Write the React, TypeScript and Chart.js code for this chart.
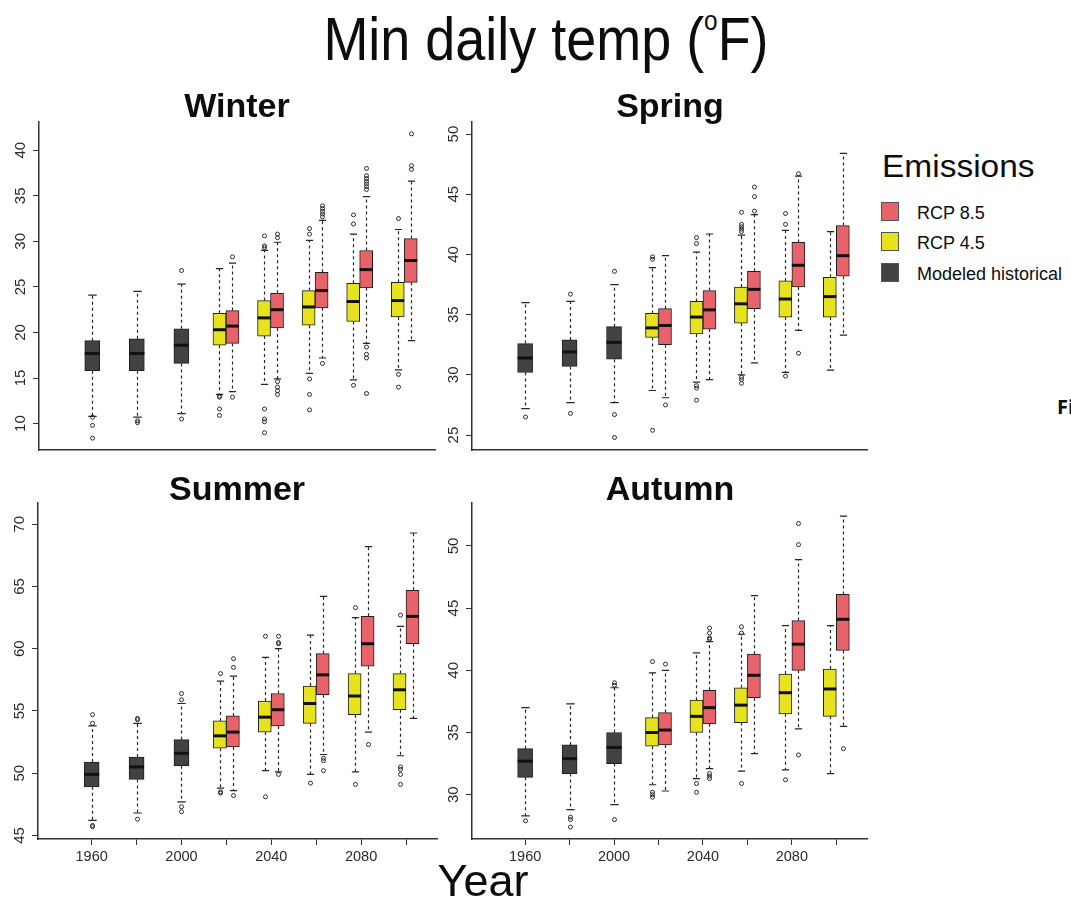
import React, { useEffect, useRef } from 'react';
import { Chart, registerables } from 'chart.js';

Chart.register(...registerables);

const FONT = '"Liberation Sans", Arial, Helvetica, sans-serif';

// ---------- data ----------
const HIST_YEARS = [1960, 1980, 2000];
const RCP_YEARS = [2020, 2040, 2060, 2080, 2100];
const X_TICKS = [1960, 1980, 2000, 2020, 2040, 2060, 2080, 2100];
const X_TICK_LABELS = ['1960', '', '2000', '', '2040', '', '2080', ''];

// box stats per period: [lower whisker, Q1, median, Q3, upper whisker]
const WINTER_HIST = [
  [10.8, 15.8, 17.7, 19.1, 24.1],
  [10.7, 15.8, 17.7, 19.3, 24.5],
  [11.1, 16.6, 18.6, 20.4, 25.3],
];
const WINTER_HIST_OUT = [[10.7, 9.8, 8.4], [10.3, 10.1], [26.8, 10.5]];
const WINTER_RCP45 = [
  [13.2, 18.6, 20.3, 22.1, 27.0],
  [14.3, 19.6, 21.6, 23.5, 29.0],
  [15.5, 20.8, 22.8, 24.6, 30.1],
  [14.8, 21.2, 23.4, 25.4, 30.8],
  [15.9, 21.7, 23.5, 25.5, 31.3],
];
const WINTER_RCP45_OUT = [
  [13.0, 12.9, 11.6, 10.9],
  [30.6, 29.5, 29.3, 11.6, 10.5, 10.2, 9.0],
  [31.4, 30.8, 14.9, 13.2, 11.5],
  [32.9, 31.9, 14.2],
  [32.5, 15.4, 14.0],
];
const WINTER_RCP85 = [
  [13.5, 18.8, 20.7, 22.4, 27.6],
  [14.9, 20.5, 22.5, 24.3, 29.9],
  [17.2, 22.7, 24.6, 26.6, 32.3],
  [18.8, 24.9, 26.9, 29.0, 34.9],
  [19.1, 25.5, 27.9, 30.3, 36.6],
];
const WINTER_RCP85_OUT = [
  [28.3, 12.9],
  [30.8, 30.4, 14.6, 14.0, 13.6, 13.2],
  [33.9, 33.6, 33.3, 33.0, 32.7, 16.6],
  [38.0, 37.2, 36.9, 36.6, 36.3, 36.0, 35.7, 18.4, 17.6, 17.2, 13.3],
  [41.8, 38.3, 37.9],
];
const WINTER_YTICKS = [10, 15, 20, 25, 30, 35, 40];

const SPRING_HIST = [
  [27.2, 30.2, 31.4, 32.6, 36.0],
  [27.7, 30.7, 31.9, 32.9, 36.1],
  [27.7, 31.3, 32.7, 34.0, 37.5],
];
const SPRING_HIST_OUT = [[26.5], [36.7, 26.8], [38.6, 26.7, 24.8]];
const SPRING_RCP45 = [
  [28.7, 33.1, 33.9, 35.1, 38.9],
  [29.4, 33.4, 34.8, 36.1, 40.2],
  [30.0, 34.3, 35.9, 37.3, 41.6],
  [30.2, 34.8, 36.3, 37.8, 42.0],
  [30.4, 34.8, 36.5, 38.1, 41.9],
];
const SPRING_RCP45_OUT = [
  [39.8, 39.6, 25.4],
  [41.4, 40.9, 29.1, 28.9, 27.9],
  [43.5, 42.5, 42.3, 42.1, 41.9, 29.8, 29.6, 29.3],
  [43.4, 42.5, 29.9],
  [],
];
const SPRING_RCP85 = [
  [28.1, 32.5, 34.1, 35.5, 39.9],
  [29.6, 33.8, 35.4, 37.0, 41.7],
  [31.0, 35.5, 37.1, 38.6, 43.3],
  [33.7, 37.3, 39.1, 41.0, 46.5],
  [33.3, 38.2, 39.9, 42.4, 48.4],
];
const SPRING_RCP85_OUT = [[27.5], [], [45.6, 44.8, 43.6], [46.7, 31.8], []];
const SPRING_YTICKS = [25, 30, 35, 40, 45, 50];

const SUMMER_HIST = [
  [46.2, 48.9, 49.9, 50.9, 53.8],
  [46.8, 49.5, 50.5, 51.3, 54.0],
  [47.7, 50.6, 51.6, 52.7, 55.6],
];
const SUMMER_HIST_OUT = [[54.7, 54.0, 45.8, 45.7], [54.4, 54.3, 46.3], [56.4, 55.9, 47.3, 46.9]];
const SUMMER_RCP45 = [
  [48.8, 52.0, 53.0, 54.2, 57.4],
  [50.2, 53.3, 54.5, 55.8, 59.3],
  [49.9, 54.0, 55.6, 57.0, 61.1],
  [50.1, 54.7, 56.2, 58.0, 62.5],
  [51.4, 55.1, 56.7, 58.0, 61.8],
];
const SUMMER_RCP45_OUT = [
  [58.0, 48.5, 48.4],
  [61.0, 48.1],
  [49.2],
  [63.3, 49.1],
  [62.7, 50.5, 50.3, 49.9, 49.1],
];
const SUMMER_RCP85 = [
  [48.6, 52.1, 53.3, 54.6, 57.8],
  [50.1, 53.8, 55.1, 56.4, 60.0],
  [51.5, 56.3, 57.9, 59.6, 64.2],
  [53.3, 58.6, 60.4, 62.6, 68.2],
  [54.4, 60.4, 62.6, 64.7, 69.3],
];
const SUMMER_RCP85_OUT = [[59.2, 58.5, 48.2], [61.0, 60.5, 60.4, 49.9], [51.2, 51.0, 50.2], [52.3], []];
const SUMMER_YTICKS = [45, 50, 55, 60, 65, 70];

const AUTUMN_HIST = [
  [28.3, 31.4, 32.7, 33.7, 37.0],
  [28.8, 31.7, 32.9, 34.0, 37.3],
  [29.2, 32.5, 33.8, 35.0, 38.6],
];
const AUTUMN_HIST_OUT = [[27.9], [28.2, 28.0, 27.4], [39.0, 38.8, 28.0]];
const AUTUMN_RCP45 = [
  [30.8, 33.9, 35.0, 36.2, 39.8],
  [31.3, 35.0, 36.3, 37.6, 41.4],
  [31.9, 35.8, 37.2, 38.6, 42.9],
  [32.0, 36.5, 38.2, 39.7, 43.6],
  [31.7, 36.3, 38.5, 40.1, 43.6],
];
const AUTUMN_RCP45_OUT = [[40.7, 30.2, 30.0, 29.8], [30.9, 30.2], [43.5, 43.0, 30.9], [31.2], []];
const AUTUMN_RCP85 = [
  [30.3, 34.0, 35.2, 36.6, 40.0],
  [32.1, 35.7, 37.0, 38.4, 42.3],
  [33.3, 37.8, 39.6, 41.3, 46.0],
  [35.3, 40.0, 42.1, 44.0, 48.9],
  [35.5, 41.6, 44.1, 46.1, 52.4],
];
const AUTUMN_RCP85_OUT = [[40.5], [43.4, 43.0, 42.6, 42.5, 31.7, 31.5, 31.3], [], [51.8, 50.1, 33.2], [33.7]];
const AUTUMN_YTICKS = [30, 35, 40, 45, 50];

const SERIES_NAMES = ['Modeled historical', 'RCP 4.5', 'RCP 8.5'];
const COLORS = ['#424242', '#E6E21E', '#E8626A'];

// ---------- layout ----------
const X_MIN = 1936.1;
const X_MAX = 2113.8;

type Area = { l: number; t: number; r: number; b: number };
type Panel = {
  title: string;
  hist: number[][]; histOut: number[][];
  r45: number[][]; r45Out: number[][];
  r85: number[][]; r85Out: number[][];
  yTicks: number[]; yMin: number; yMax: number;
  area: Area; showX: boolean; titleX: number; titleBase: number;
};

const PANELS: Panel[] = [
  { title: 'Winter', hist: WINTER_HIST, histOut: WINTER_HIST_OUT, r45: WINTER_RCP45, r45Out: WINTER_RCP45_OUT, r85: WINTER_RCP85, r85Out: WINTER_RCP85_OUT,
    yTicks: WINTER_YTICKS, yMin: 7.1, yMax: 43.1, area: { l: 39, t: 122, r: 435, b: 457 }, showX: false, titleX: 237, titleBase: 117 },
  { title: 'Spring', hist: SPRING_HIST, histOut: SPRING_HIST_OUT, r45: SPRING_RCP45, r45Out: SPRING_RCP45_OUT, r85: SPRING_RCP85, r85Out: SPRING_RCP85_OUT,
    yTicks: SPRING_YTICKS, yMin: 23.76, yMax: 51.0, area: { l: 472, t: 122, r: 867, b: 457 }, showX: false, titleX: 670, titleBase: 117 },
  { title: 'Summer', hist: SUMMER_HIST, histOut: SUMMER_HIST_OUT, r45: SUMMER_RCP45, r45Out: SUMMER_RCP45_OUT, r85: SUMMER_RCP85, r85Out: SUMMER_RCP85_OUT,
    yTicks: SUMMER_YTICKS, yMin: 44.71, yMax: 71.71, area: { l: 38, t: 503, r: 437, b: 839 }, showX: true, titleX: 237, titleBase: 500 },
  { title: 'Autumn', hist: AUTUMN_HIST, histOut: AUTUMN_HIST_OUT, r45: AUTUMN_RCP45, r45Out: AUTUMN_RCP45_OUT, r85: AUTUMN_RCP85, r85Out: AUTUMN_RCP85_OUT,
    yTicks: AUTUMN_YTICKS, yMin: 26.44, yMax: 53.45, area: { l: 472, t: 503, r: 867, b: 839 }, showX: true, titleX: 670, titleBase: 500 },
];

type Row = { s: number[]; o: number[] } | null;

function alignRows(years: number[], stats: number[][], outs: number[][]): Row[] {
  return X_TICKS.map((yr) => {
    const k = years.indexOf(yr);
    return k >= 0 ? { s: stats[k], o: outs[k] || [] } : null;
  });
}

function makeBoxPlugin(rows: Row[][]) {
  return {
    id: 'boxWhiskers',
    afterDatasetsDraw(chart: any) {
      const ctx: CanvasRenderingContext2D = chart.ctx;
      const ys = chart.scales.y;
      ctx.save();
      rows.forEach((dsRows, di) => {
        const meta = chart.getDatasetMeta(di);
        dsRows.forEach((row, j) => {
          if (!row) return;
          const el = meta.data[j];
          if (!el) return;
          const { x, width } = el.getProps(['x', 'width'], true);
          const [lo, q1, med, q3, hi] = row.s;
          const pLo = ys.getPixelForValue(lo);
          const pQ1 = ys.getPixelForValue(q1);
          const pMed = ys.getPixelForValue(med);
          const pQ3 = ys.getPixelForValue(q3);
          const pHi = ys.getPixelForValue(hi);
          const cx = Math.round(x) + 0.5;
          // dashed whiskers
          ctx.strokeStyle = '#262626';
          ctx.lineWidth = 1.2;
          ctx.setLineDash([3, 3]);
          ctx.beginPath();
          ctx.moveTo(cx, pQ3);
          ctx.lineTo(cx, pHi);
          ctx.moveTo(cx, pQ1);
          ctx.lineTo(cx, pLo);
          ctx.stroke();
          // staples
          ctx.setLineDash([]);
          const sw = width * 0.28;
          ctx.beginPath();
          ctx.moveTo(cx - sw, pHi);
          ctx.lineTo(cx + sw, pHi);
          ctx.moveTo(cx - sw, pLo);
          ctx.lineTo(cx + sw, pLo);
          ctx.stroke();
          // median
          ctx.strokeStyle = '#111';
          ctx.lineWidth = 3;
          ctx.beginPath();
          ctx.moveTo(x - width / 2, pMed);
          ctx.lineTo(x + width / 2, pMed);
          ctx.stroke();
          // outliers
          ctx.strokeStyle = '#2a2a2a';
          ctx.lineWidth = 1;
          row.o.forEach((v) => {
            ctx.beginPath();
            ctx.arc(cx, ys.getPixelForValue(v), 2, 0, Math.PI * 2);
            ctx.stroke();
          });
        });
      });
      ctx.restore();
    },
  };
}

const Y_AXIS_W = 36;

function BoxPanel({ p }: { p: Panel }) {
  const ref = useRef<HTMLCanvasElement>(null);
  const canvasLeft = Math.max(0, p.area.l - 40);
  const canvasTop = p.area.t - 30;
  const xAxisH = p.showX ? 40 : 0;
  const padBottom = 6;
  const padLeft = p.area.l - canvasLeft - Y_AXIS_W;
  const width = p.area.r + 5 - canvasLeft;
  const height = p.area.b - canvasTop + xAxisH + padBottom;

  useEffect(() => {
    if (!ref.current) return;
    const rows: Row[][] = [
      alignRows(HIST_YEARS, p.hist, p.histOut),
      alignRows(RCP_YEARS, p.r45, p.r45Out),
      alignRows(RCP_YEARS, p.r85, p.r85Out),
    ];
    const mk = (rs: Row[]) => rs.map((r, i) => ({ x: X_TICKS[i], y: r ? [r.s[1], r.s[3]] : null }));
    const thickness = [15, 13, 13];
    const chart = new Chart(ref.current, {
      type: 'bar',
      data: {
        datasets: rows.map((rs, i) => ({
          label: SERIES_NAMES[i],
          data: mk(rs) as any,
          backgroundColor: COLORS[i],
          borderColor: '#1e1e1e',
          borderWidth: 1,
          borderSkipped: false,
          barThickness: thickness[i],
          skipNull: true,
          grouped: true,
        })),
      },
      options: {
        animation: false,
        responsive: false,
        maintainAspectRatio: false,
        events: [],
        layout: { padding: { left: padLeft, top: 30, right: 5, bottom: padBottom } },
        plugins: {
          legend: { display: false },
          tooltip: { enabled: false },
          title: { display: false },
        },
        scales: {
          x: {
            type: 'linear',
            min: X_MIN,
            max: X_MAX,
            offset: false,
            afterBuildTicks: (s: any) => { s.ticks = X_TICKS.map((v) => ({ value: v })); },
            afterFit: (s: any) => { s.height = xAxisH; },
            ticks: {
              display: p.showX,
              autoSkip: false,
              maxRotation: 0,
              minRotation: 0,
              padding: 3,
              color: '#2b2b2b',
              font: { size: 14.5, family: FONT },
              callback: (v: any) => { const k = X_TICKS.indexOf(Number(v)); return k >= 0 ? X_TICK_LABELS[k] : ''; },
            },
            grid: { display: p.showX, offset: false, drawOnChartArea: false, drawTicks: true, tickLength: 6, color: '#333', lineWidth: 1 },
            border: { display: true, color: '#333', width: 1.5 },
          },
          y: {
            type: 'linear',
            min: p.yMin,
            max: p.yMax,
            beginAtZero: false,
            afterBuildTicks: (s: any) => { s.ticks = p.yTicks.map((v) => ({ value: v })); },
            afterFit: (s: any) => { s.width = Y_AXIS_W; },
            ticks: {
              minRotation: 90,
              maxRotation: 90,
              crossAlign: 'center',
              padding: 4,
              color: '#2b2b2b',
              font: { size: 15, family: FONT },
              callback: (v: any) => String(v),
            },
            grid: { drawOnChartArea: false, drawTicks: true, tickLength: 6, color: '#333', lineWidth: 1 },
            border: { display: true, color: '#333', width: 1.5 },
          },
        },
      } as any,
      plugins: [makeBoxPlugin(rows)],
    });
    return () => chart.destroy();
  }, []);

  return (
    <canvas
      ref={ref}
      width={width}
      height={height}
      style={{ position: 'absolute', left: canvasLeft, top: canvasTop, width, height }}
    />
  );
}

type TextProps = {
  x: number; base: number; size: number; weight?: number | string;
  align?: 'left' | 'center'; sx?: number; family?: string; ratio?: number; children: React.ReactNode;
};

function TextAt({ x, base, size, weight = 'normal', align = 'left', sx = 1, family = FONT, ratio = 0.8465, children }: TextProps) {
  const top = base - ratio * size;
  return (
    <div
      style={{
        position: 'absolute',
        left: x,
        top,
        fontFamily: family,
        fontSize: size,
        lineHeight: `${size}px`,
        fontWeight: weight as any,
        whiteSpace: 'nowrap',
        color: '#0d0d0d',
        transform: `${align === 'center' ? 'translateX(-50%) ' : ''}scaleX(${sx})`,
        transformOrigin: align === 'center' ? 'center top' : 'left top',
      }}
    >
      {children}
    </div>
  );
}

const LEGEND_ORDER = [2, 1, 0];
const LEGEND_BASES = [219, 249, 280];

export default function App() {
  return (
    <div style={{ position: 'absolute', left: 0, top: 0, width: 1071, height: 899, background: '#fff', overflow: 'hidden' }}>
      <TextAt x={546} base={60} size={62} align="center" sx={0.87}>
        Min daily temp (<span style={{ fontSize: 28, position: 'relative', top: -30 }}>o</span>F)
      </TextAt>
      {PANELS.map((p) => (
        <BoxPanel key={p.title} p={p} />
      ))}
      {PANELS.map((p) => (
        <TextAt key={p.title + 't'} x={p.titleX} base={p.titleBase} size={34} weight="bold" align="center">
          {p.title}
        </TextAt>
      ))}
      <TextAt x={882} base={177} size={31} sx={1.08}>Emissions</TextAt>
      {LEGEND_ORDER.map((si, k) => (
        <React.Fragment key={si}>
          <div
            style={{
              position: 'absolute', left: 881, top: LEGEND_BASES[k] - 17, width: 16, height: 17,
              background: COLORS[si], border: '1px solid #555',
            }}
          />
          <TextAt x={917} base={LEGEND_BASES[k]} size={18}>{SERIES_NAMES[si]}</TextAt>
        </React.Fragment>
      ))}
      <TextAt x={483} base={896} size={45} align="center">Year</TextAt>
      <TextAt x={1057} base={415} size={20} weight="bold" family='"Open Sans", sans-serif' ratio={0.888}>Fi</TextAt>
    </div>
  );
}
